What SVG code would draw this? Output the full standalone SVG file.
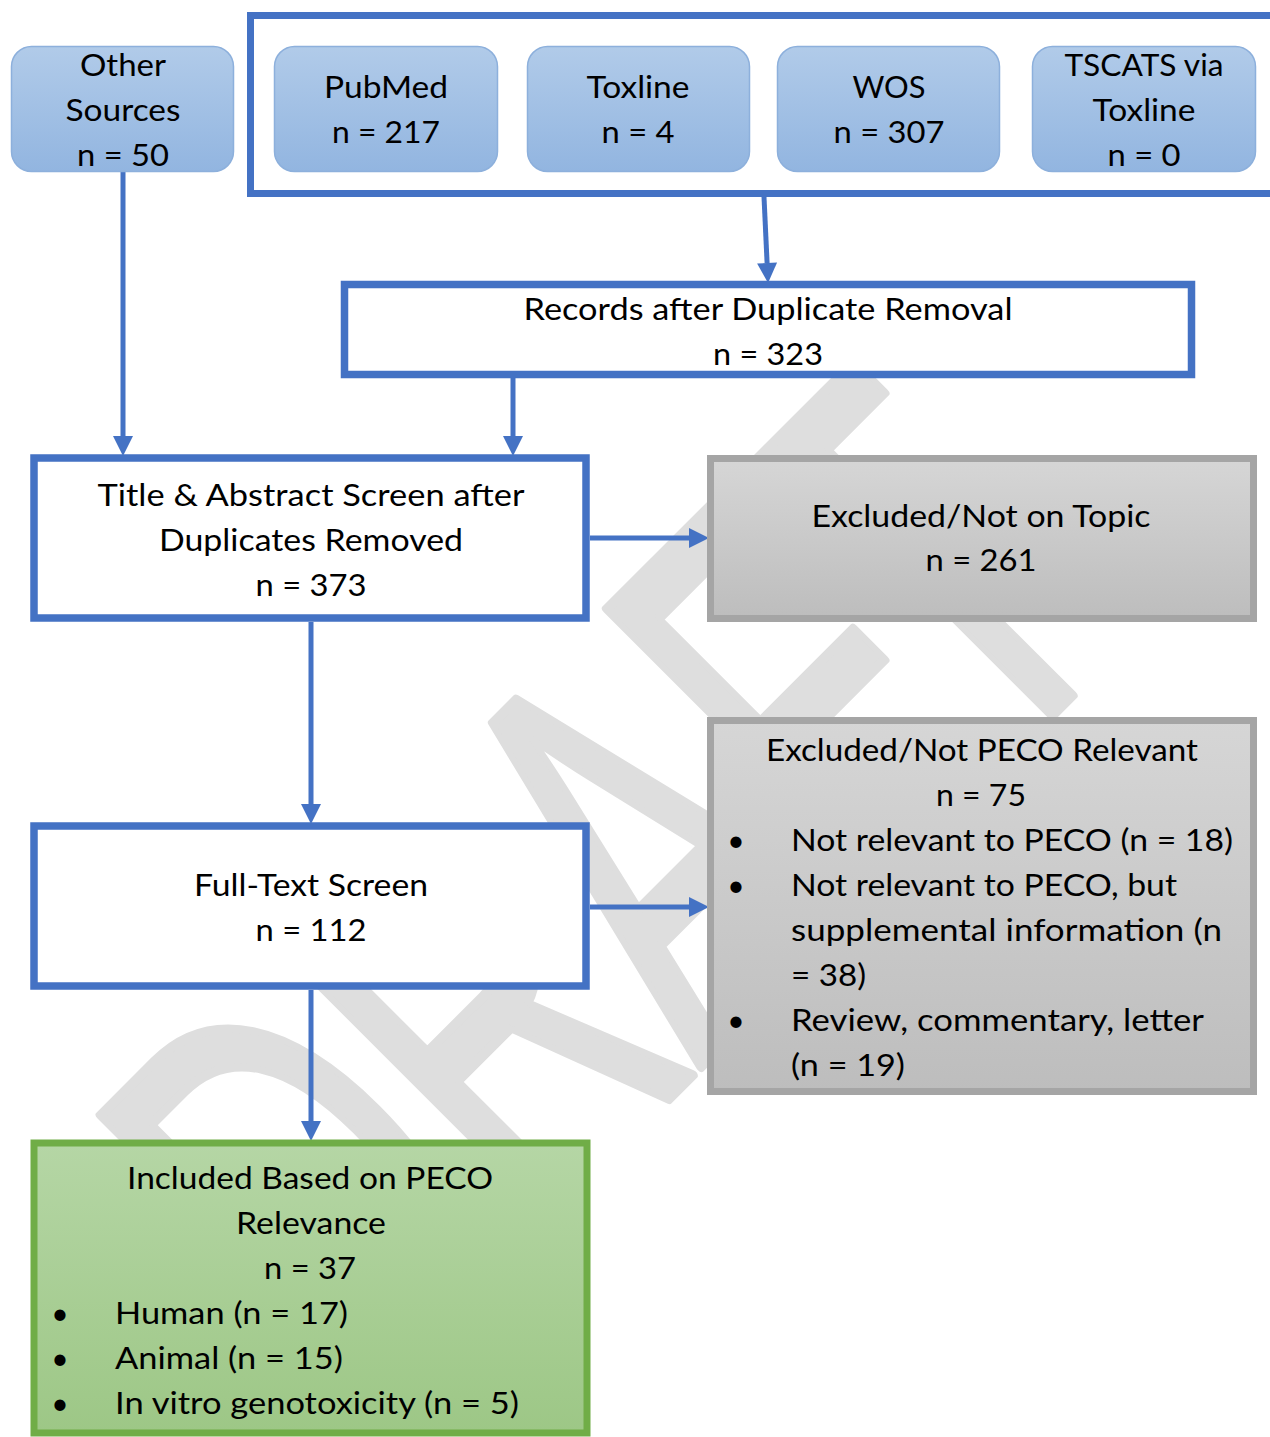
<svg xmlns="http://www.w3.org/2000/svg" width="1270" height="1437" viewBox="0 0 1270 1437">
<defs>
<linearGradient id="gBlue" x1="0" y1="0" x2="0" y2="1"><stop offset="0" stop-color="#b1cbe9"/><stop offset="1" stop-color="#92b5e0"/></linearGradient>
<linearGradient id="gGray" x1="0" y1="0" x2="0" y2="1"><stop offset="0" stop-color="#d6d6d6"/><stop offset="1" stop-color="#bdbdbd"/></linearGradient>
<linearGradient id="gGreen" x1="0" y1="0" x2="0" y2="1"><stop offset="0" stop-color="#b5d6a5"/><stop offset="1" stop-color="#9dc786"/></linearGradient>
<marker id="ah" markerUnits="userSpaceOnUse" markerWidth="22" markerHeight="22" refX="0" refY="10" orient="auto" overflow="visible"><path d="M0,0 L20,10 L0,20 Z" fill="#4472c4"/></marker>
<style>
.t{font-family:Lato,"Liberation Sans",sans-serif;font-size:30px;fill:#000;text-anchor:middle}
.l{font-family:Lato,"Liberation Sans",sans-serif;font-size:30px;fill:#000;text-anchor:start}
.src{fill:url(#gBlue);stroke:#8db0dc;stroke-width:1.5}
.wb{fill:#fff;stroke:#4472c4;stroke-width:7.5}
.gb{fill:url(#gGray);stroke:#a5a5a5;stroke-width:7}
.grb{fill:url(#gGreen);stroke:#70ad47;stroke-width:7}
.c{fill:none;stroke:#4472c4;stroke-width:5;marker-end:url(#ah)}
.wm{font-family:"Liberation Sans",Arial,sans-serif;font-size:342px;fill:#dedede;stroke:#dedede;stroke-width:6;stroke-linejoin:round}
</style>
</defs>
<rect width="1270" height="1437" fill="#fff"/>
<g id="watermark">
<text class="wm" transform="matrix(0.7071,-0.7071,1.1724,1.1724,883.9,883.9)" x="-747 -500 -261 -31 148" y="0">DRAFT</text>
</g>
<g id="sourcesFrame"><rect x="250.5" y="15.5" width="1040" height="178" fill="none" stroke="#4472c4" stroke-width="7"/></g>
<g id="connectors">
<path class="c" d="M123,172 L123,436"/>
<path class="c" d="M764,197 L767.1,263"/>
<path class="c" d="M513,378 L513,436"/>
<path class="c" d="M590,538 L689,538"/>
<path class="c" d="M311,622 L311,804"/>
<path class="c" d="M590,907 L689,907"/>
<path class="c" d="M311,990 L311,1121"/>
</g>
<g id="otherSources"><rect class="src" x="11.5" y="46.5" width="222" height="125" rx="20"/>
<text class="t" x="123" y="76" textLength="86" lengthAdjust="spacingAndGlyphs">Other</text>
<text class="t" x="123" y="121" textLength="115" lengthAdjust="spacingAndGlyphs">Sources</text>
<text class="t" x="123" y="166" textLength="92" lengthAdjust="spacingAndGlyphs">n = 50</text></g>
<g id="pubmed"><rect class="src" x="274.5" y="46.5" width="223" height="125" rx="20"/>
<text class="t" x="386" y="98" textLength="124" lengthAdjust="spacingAndGlyphs">PubMed</text>
<text class="t" x="386" y="143" textLength="108" lengthAdjust="spacingAndGlyphs">n = 217</text></g>
<g id="toxline"><rect class="src" x="527.5" y="46.5" width="222" height="125" rx="20"/>
<text class="t" x="638" y="98" textLength="103" lengthAdjust="spacingAndGlyphs">Toxline</text>
<text class="t" x="638" y="143" textLength="73" lengthAdjust="spacingAndGlyphs">n = 4</text></g>
<g id="wos"><rect class="src" x="777.5" y="46.5" width="222" height="125" rx="20"/>
<text class="t" x="889" y="98" textLength="73" lengthAdjust="spacingAndGlyphs">WOS</text>
<text class="t" x="889" y="143" textLength="111" lengthAdjust="spacingAndGlyphs">n = 307</text></g>
<g id="tscats"><rect class="src" x="1032.5" y="46.5" width="223" height="125" rx="20"/>
<text class="t" x="1144" y="76" textLength="159" lengthAdjust="spacingAndGlyphs">TSCATS via</text>
<text class="t" x="1144" y="121" textLength="103" lengthAdjust="spacingAndGlyphs">Toxline</text>
<text class="t" x="1144" y="166" textLength="73" lengthAdjust="spacingAndGlyphs">n = 0</text></g>
<g id="records"><rect class="wb" x="344.5" y="284.5" width="847" height="90"/>
<text class="t" x="768" y="320" textLength="489" lengthAdjust="spacingAndGlyphs">Records after Duplicate Removal</text>
<text class="t" x="768" y="365" textLength="110" lengthAdjust="spacingAndGlyphs">n = 323</text></g>
<g id="titleAbstract"><rect class="wb" x="34" y="458" width="552" height="160"/>
<text class="t" x="311" y="506" textLength="427" lengthAdjust="spacingAndGlyphs">Title &amp; Abstract Screen after</text>
<text class="t" x="311" y="551" textLength="304" lengthAdjust="spacingAndGlyphs">Duplicates Removed</text>
<text class="t" x="311" y="596" textLength="111" lengthAdjust="spacingAndGlyphs">n = 373</text></g>
<g id="excludedTopic"><rect class="gb" x="710.5" y="458.5" width="543" height="160"/>
<text class="t" x="981" y="527" textLength="339" lengthAdjust="spacingAndGlyphs">Excluded/Not on Topic</text>
<text class="t" x="981" y="571" textLength="111" lengthAdjust="spacingAndGlyphs">n = 261</text></g>
<g id="fullText"><rect class="wb" x="34" y="826" width="552" height="160"/>
<text class="t" x="311" y="896" textLength="234" lengthAdjust="spacingAndGlyphs">Full-Text Screen</text>
<text class="t" x="311" y="941" textLength="111" lengthAdjust="spacingAndGlyphs">n = 112</text></g>
<g id="excludedPECO"><rect class="gb" x="710.5" y="720.5" width="543" height="371"/>
<text class="t" x="982" y="761" textLength="432" lengthAdjust="spacingAndGlyphs">Excluded/Not PECO Relevant</text>
<text class="t" x="981" y="806" textLength="90" lengthAdjust="spacingAndGlyphs">n = 75</text>
<text class="t" x="736" y="851">•</text>
<text class="l" x="791" y="851" textLength="442" lengthAdjust="spacingAndGlyphs">Not relevant to PECO (n = 18)</text>
<text class="t" x="736" y="896">•</text>
<text class="l" x="791" y="896" textLength="386" lengthAdjust="spacingAndGlyphs">Not relevant to PECO, but</text>
<text class="l" x="791" y="941" textLength="431" lengthAdjust="spacingAndGlyphs">supplemental information (n</text>
<text class="l" x="791" y="986" textLength="75" lengthAdjust="spacingAndGlyphs">= 38)</text>
<text class="t" x="736" y="1031">•</text>
<text class="l" x="791" y="1031" textLength="413" lengthAdjust="spacingAndGlyphs">Review, commentary, letter</text>
<text class="l" x="791" y="1076" textLength="114" lengthAdjust="spacingAndGlyphs">(n = 19)</text></g>
<g id="included"><rect class="grb" x="34" y="1143" width="553" height="290"/>
<text class="t" x="310" y="1189" textLength="366" lengthAdjust="spacingAndGlyphs">Included Based on PECO</text>
<text class="t" x="311" y="1234" textLength="150" lengthAdjust="spacingAndGlyphs">Relevance</text>
<text class="t" x="310" y="1279" textLength="92" lengthAdjust="spacingAndGlyphs">n = 37</text>
<text class="t" x="60" y="1324">•</text>
<text class="l" x="115" y="1324" textLength="233" lengthAdjust="spacingAndGlyphs">Human (n = 17)</text>
<text class="t" x="60" y="1369">•</text>
<text class="l" x="115" y="1369" textLength="228" lengthAdjust="spacingAndGlyphs">Animal (n = 15)</text>
<text class="t" x="60" y="1414">•</text>
<text class="l" x="115" y="1414" textLength="404" lengthAdjust="spacingAndGlyphs">In vitro genotoxicity (n = 5)</text></g>
</svg>
